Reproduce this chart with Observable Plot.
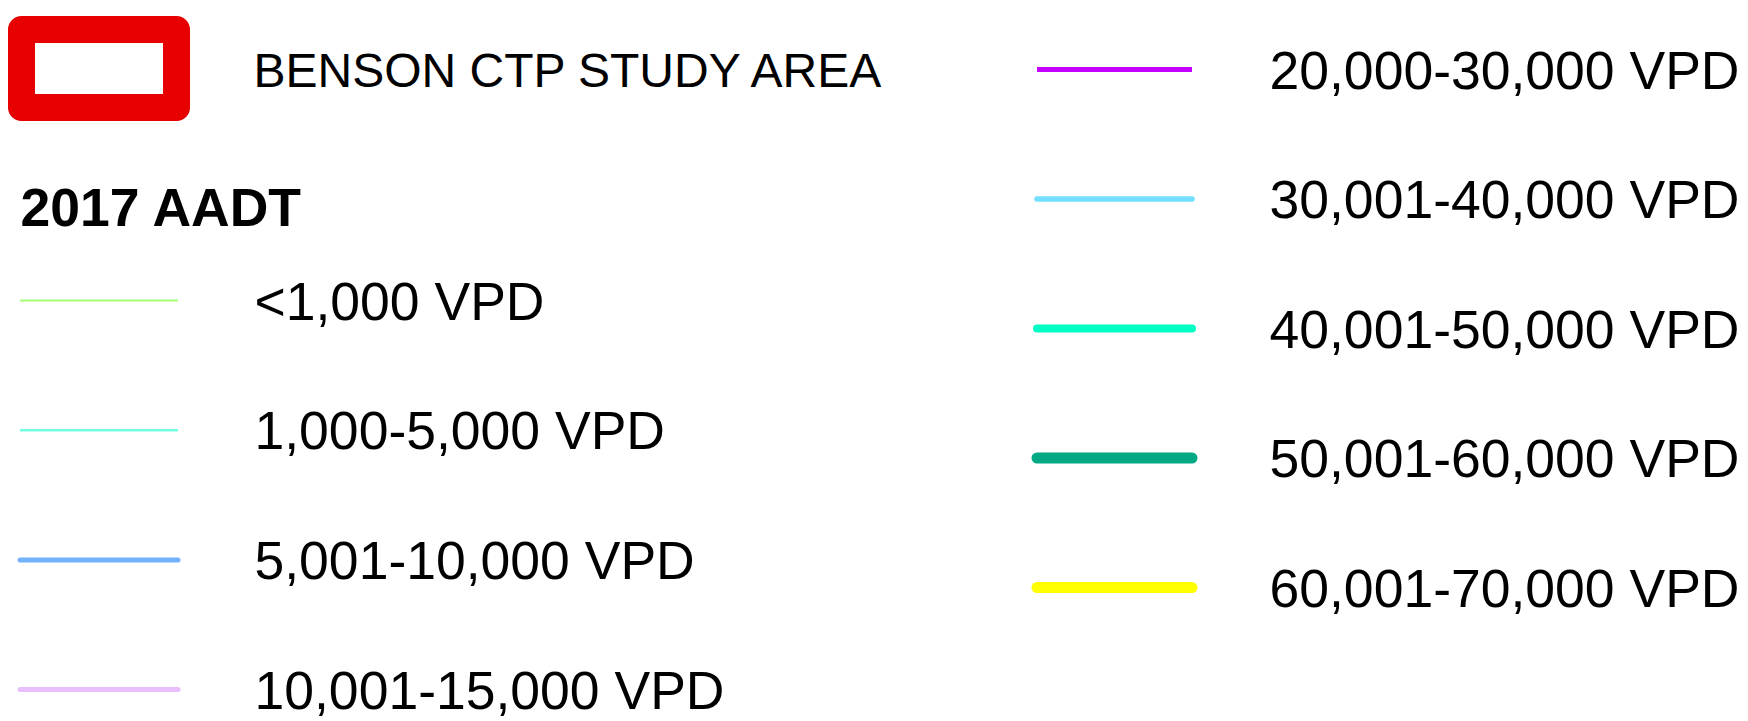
<!DOCTYPE html>
<html>
<head>
<meta charset="utf-8">
<script src="https://cdn.jsdelivr.net/npm/d3@7"></script>
<script src="https://cdn.jsdelivr.net/npm/@observablehq/plot@0.6"></script>
<style>
  html, body { margin: 0; padding: 0; background: #ffffff; }
  #chart svg { display: block; }
</style>
</head>
<body>
<div id="chart"></div>
<script>
// ---- data ----
const studyAreaLabel = "BENSON CTP STUDY AREA";
const legendTitle = "2017 AADT";
const categories = [
  "<1,000 VPD",
  "1,000-5,000 VPD",
  "5,001-10,000 VPD",
  "10,001-15,000 VPD",
  "20,000-30,000 VPD",
  "30,001-40,000 VPD",
  "40,001-50,000 VPD",
  "50,001-60,000 VPD",
  "60,001-70,000 VPD"
];
// ---- styles ----
const colors = ["#A3FF73", "#73FFDF", "#73B2FF", "#E8BEFF", "#C500FF", "#73DFFF", "#00FFC5", "#00A884", "#FFFF00"];
const lineWidths = [2, 2.5, 5, 5, 5, 5.5, 8, 11, 11];
const lineCaps = ["butt", "butt", "round", "round", "butt", "round", "round", "round", "round"];

// ---- layout ----
const W = 1748, H = 721;
const leftCount = 4;
const labelSize = 53.5;
const col = [
  {x1: 20, x2: 178, tx: 254, y0: 300, step: 129.7},
  {x1: 1037, x2: 1192, tx: 1269, y0: 69, step: 129.5}
];
const items = categories.map((label, i) => {
  const c = i < leftCount ? col[0] : col[1];
  const r = i < leftCount ? i : i - leftCount;
  const y = c.y0 + r * c.step;
  return {label, i, x1: c.x1, x2: c.x2, tx: c.tx, y, baseline: y + 19};
});

const font = "'Liberation Sans', Arial, Helvetica, sans-serif";

const marks = [
  // study area symbol
  Plot.rect([studyAreaLabel], {
    x1: () => 21.5, x2: () => 176.5, y1: () => 29.5, y2: () => 107.5,
    fill: "none", stroke: "#E60000", strokeWidth: 27, strokeLinejoin: "round"
  }),
  Plot.text([studyAreaLabel], {
    x: () => 253, y: () => 86, text: d => d,
    textAnchor: "start", lineAnchor: "bottom",
    fontSize: 48, fill: "#000", fontFamily: font
  }),
  Plot.text([legendTitle], {
    x: () => 20, y: () => 225, text: d => d,
    textAnchor: "start", lineAnchor: "bottom",
    fontSize: 53.5, fontWeight: "bold", fill: "#000", fontFamily: font
  }),
  ...items.map(d => Plot.ruleY([d], {
    y: "y", x1: "x1", x2: "x2",
    stroke: "label", strokeWidth: lineWidths[d.i], strokeLinecap: lineCaps[d.i]
  })),
  Plot.text(items, {
    x: "tx", y: "baseline", text: "label",
    textAnchor: "start", lineAnchor: "bottom",
    fontSize: labelSize, fill: "#000", fontFamily: font
  })
];

const chart = Plot.plot({
  width: W,
  height: H,
  margin: 0,
  style: {background: "#ffffff", fontFamily: font},
  x: {type: "linear", domain: [0, W], range: [0, W], axis: null},
  y: {type: "linear", domain: [0, H], range: [0, H], axis: null},
  color: {type: "ordinal", domain: categories, range: colors},
  marks
});
document.getElementById("chart").appendChild(chart);
</script>
</body>
</html>
